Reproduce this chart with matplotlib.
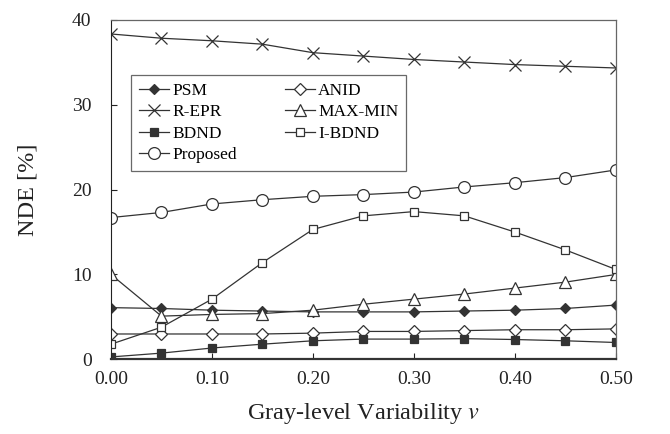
import numpy as np
import matplotlib.pyplot as plt

plt.rcParams['font.family'] = ['Liberation Serif', 'DejaVu Serif']
plt.rcParams['mathtext.fontset'] = 'stix'

# 数据
v = [0.00, 0.05, 0.10, 0.15, 0.20, 0.25, 0.30, 0.35, 0.40, 0.45, 0.50]
psm = [6.1, 6.0, 5.8, 5.7, 5.6, 5.6, 5.6, 5.7, 5.8, 6.0, 6.4]
anid = [3.0, 3.0, 3.0, 3.0, 3.1, 3.3, 3.3, 3.4, 3.5, 3.5, 3.6]
repr_ = [38.3, 37.8, 37.5, 37.1, 36.1, 35.7, 35.3, 35.0, 34.7, 34.5, 34.3]
maxmin = [10.0, 5.1, 5.3, 5.4, 5.8, 6.5, 7.1, 7.7, 8.4, 9.1, 10.0]
bdnd = [0.3, 0.75, 1.35, 1.8, 2.2, 2.4, 2.4, 2.45, 2.35, 2.2, 2.0]
ibdnd = [1.8, 3.8, 7.1, 11.4, 15.3, 16.9, 17.4, 16.9, 15.0, 12.9, 10.6]
proposed = [16.7, 17.3, 18.3, 18.8, 19.2, 19.4, 19.7, 20.3, 20.8, 21.4, 22.3]

fig = plt.figure(figsize=(6.7, 4.34), dpi=100)
ax = fig.add_axes([0.1657, 0.1717, 0.7533, 0.7833])

lc = '#333333'
kw = dict(color=lc, lw=0.9, markeredgecolor=lc, markeredgewidth=0.9)
h_psm, = ax.plot(v, psm, marker='D', ms=5.5, markerfacecolor=lc, label='PSM', **kw)
h_anid, = ax.plot(v, anid, marker='D', ms=6.5, markerfacecolor='white', label='ANID', **kw)
h_repr, = ax.plot(v, repr_, marker='x', ms=8, label='R-EPR', **kw)
h_mm, = ax.plot(v, maxmin, marker='^', ms=8, markerfacecolor='white', label='MAX-MIN', **kw)
h_bdnd, = ax.plot(v, bdnd, marker='s', ms=5.5, markerfacecolor=lc, label='BDND', **kw)
h_ib, = ax.plot(v, ibdnd, marker='s', ms=6, markerfacecolor='white', label='I-BDND', **kw)
h_pr, = ax.plot(v, proposed, marker='o', ms=8.5, markerfacecolor='white', label='Proposed', **kw)

ax.set_xlim(0, 0.5)
ax.set_ylim(0, 40)
ax.set_xticks([0.0, 0.1, 0.2, 0.3, 0.4, 0.5])
ax.set_xticklabels(['0.00', '0.10', '0.20', '0.30', '0.40', '0.50'])
ax.set_yticks([0, 10, 20, 30, 40])
ax.tick_params(direction='in', labelsize=14, colors='#222222', length=4)
ax.tick_params(axis='x', pad=8)
ax.tick_params(axis='y', pad=14)
for s in ['top', 'right']:
    ax.spines[s].set_color('#666666')
    ax.spines[s].set_linewidth(0.9)
ax.spines['left'].set_color('#222222')
ax.spines['bottom'].set_color('#333333')
ax.spines['bottom'].set_linewidth(1.6)

ax.set_ylabel('NDE [%]', fontsize=17.5, color='#222222', labelpad=24)
ax.set_xlabel('Gray-level Variability $\\mathit{v}$', fontsize=17.5, color='#222222', labelpad=10)

# 图例按行排列
handles = [h_psm, h_repr, h_bdnd, h_pr, h_anid, h_mm, h_ib]
leg = ax.legend(handles=handles, loc='upper left', bbox_to_anchor=(0.04, 0.837), ncol=2,
                fontsize=12.5, frameon=True, fancybox=False, edgecolor='#444444',
                handlelength=1.7, handletextpad=0.2, columnspacing=2.8,
                labelspacing=0.3, borderpad=0.45, borderaxespad=0)
leg.get_frame().set_linewidth(0.9)

fig.savefig('out.png', dpi=100)
